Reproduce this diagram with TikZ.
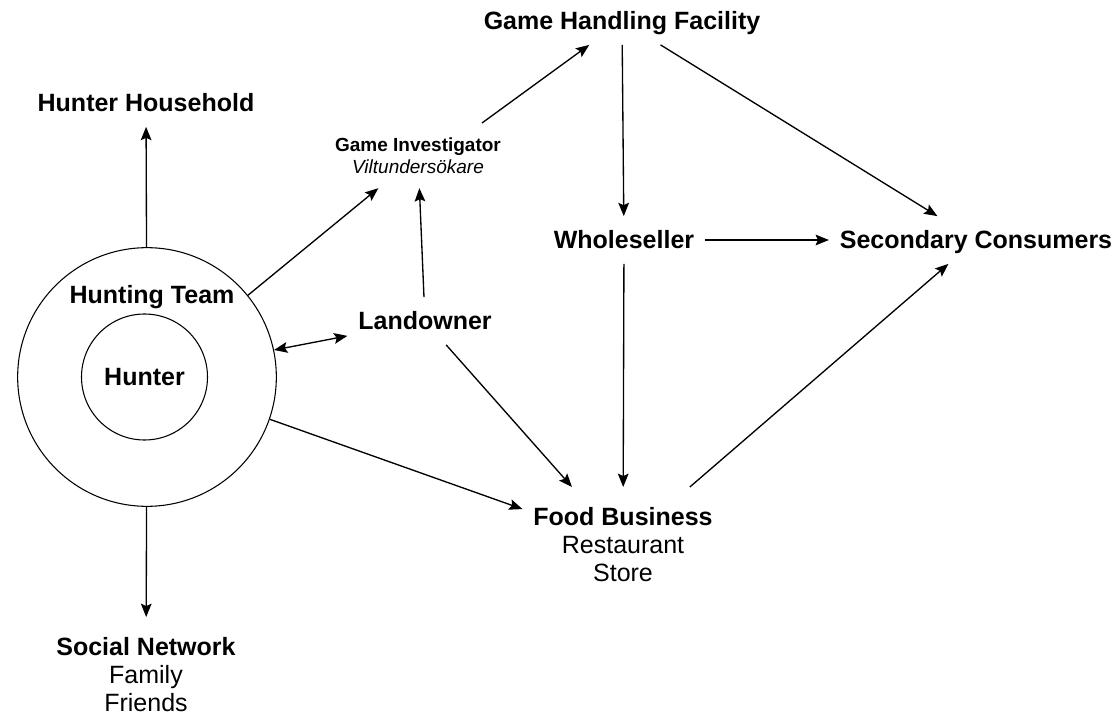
\documentclass[tikz,border=0pt]{standalone}
\usepackage{fontspec}
\setmainfont{Liberation Sans}
\usetikzlibrary{arrows.meta}

\newcommand{\bigtxt}{\fontsize{18.75}{21.2}\selectfont}
\newcommand{\smalltxt}{\fontsize{14.25}{17}\selectfont}

\tikzset{
  party/.style={inner xsep=8pt,inner ysep=11pt,font=\bigtxt\bfseries,text height=13.4pt,text depth=0pt},
  group/.style={anchor=north,align=center,inner xsep=8pt,inner ysep=15pt,font=\bigtxt},
  flow/.style={-{Stealth[length=10pt,width=8pt,inset=1.8pt]},line width=1pt},
  twoway/.style={{Stealth[length=10pt,width=8pt,inset=1.8pt]}-{Stealth[length=10pt,width=8pt,inset=1.8pt]},line width=1pt},
}

\begin{document}
\begin{tikzpicture}[x=0.75pt,y=-0.75pt]
	\useasboundingbox (0,0) rectangle (1118,717);
	% hunting team with the hunter inside
	\node[shape=circle,draw=black,line width=0.8pt,minimum size=194pt] (team) at (147,377) {};
	\node[shape=circle,draw=black,line width=0.8pt,minimum size=94.5pt,font=\bigtxt] (hunter) at (144.5,377) {\textbf{Hunter}};
	\node[party] (teamlbl) at (152,295) {Hunting Team};
	\node[party] (hh)  at (146,103) {Hunter Household};
	\node[group] (sn)  at (146,617) {\textbf{Social Network}\\Family\\Friends};
	\node[group,font=\smalltxt,inner ysep=10.5pt] (gi) at (418,123) {\textbf{Game Investigator}\\\textit{Viltundersökare}};
	\node[party] (ld)  at (425,321) {Landowner};
	\node[party] (ghf) at (622,21)  {Game Handling Facility};
	\node[party] (w)   at (624,240) {Wholeseller};
	\node[party] (sc)  at (976,240) {Secondary Consumers};
	\node[group] (fb)  at (623,487) {\textbf{Food Business}\\Restaurant\\Store};
    \path[flow] (team) edge (hh);
    \path[flow] (team) edge (sn);
    \path[flow] (team.39) edge (gi);
    \path[twoway] (team.12) edge (ld);
    \path[flow] (team.-19) edge (fb);
    \path[flow] (ld) edge (gi);
    \path[flow] (ld) edge (fb);
    \path[flow] ([xshift=48pt]gi.north) edge (ghf);
    \path[flow] (ghf) edge (w);
    \path[flow] (ghf) edge (sc);
    \path[flow] (w) edge (sc);
    \path[flow] (w) edge (fb);
    \path[flow] (fb) edge (sc);
\end{tikzpicture}
\end{document}
